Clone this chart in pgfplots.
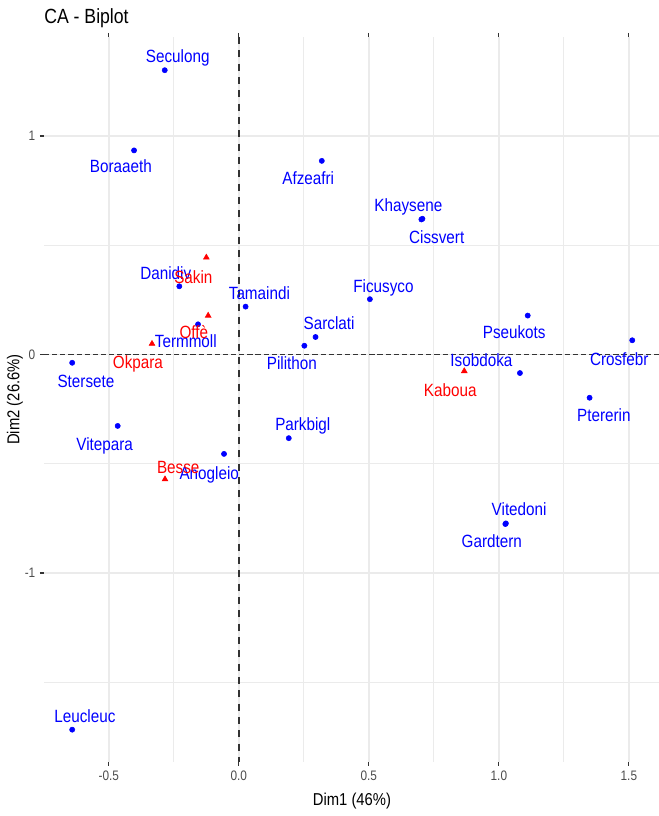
\documentclass[border=0pt]{standalone}
\usepackage{pgfplots}
\pgfplotsset{compat=1.18}
\usepackage{fontspec}
\setmainfont{Liberation Sans}[FakeStretch=0.86]
\definecolor{gridc}{HTML}{EBEBEB}
\definecolor{tickc}{HTML}{333333}
\definecolor{ticklab}{HTML}{4D4D4D}
\definecolor{rowblue}{HTML}{0000FF}
\definecolor{colred}{HTML}{FF0000}

\pgfplotstableread{
x y label
-0.285 1.301 Seculong
-0.403 0.934 Boraaeth
0.319 0.886 Afzeafri
0.706 0.621 Khaysene
0.702 0.618 Cissvert
-0.229 0.312 Danidiv
0.026 0.219 Tamaindi
-0.157 0.138 Termmoll
0.504 0.253 Ficusyco
0.295 0.080 Sarclati
0.252 0.040 Pilithon
1.111 0.178 Pseukots
1.513 0.065 Crosfebr
1.081 -0.085 Isobdoka
1.349 -0.198 Ptererin
-0.641 -0.038 Stersete
-0.466 -0.327 Vitepara
0.192 -0.383 Parkbigl
-0.057 -0.455 Anogleio
1.027 -0.773 Vitedoni
1.025 -0.776 Gardtern
-0.641 -1.717 Leucleuc
}\rowpts

\pgfplotstableread{
x y label
-0.235 1.366 Seculong
-0.454 0.864 Boraaeth
0.267 0.806 Afzeafri
0.652 0.684 Khaysene
0.761 0.539 Cissvert
-0.281 0.374 Danidiv
0.079 0.283 Tamaindi
-0.204 0.059 Termmoll
0.556 0.315 Ficusyco
0.347 0.143 Sarclati
0.204 -0.038 Pilithon
1.059 0.102 Pseukots
1.463 -0.021 Crosfebr
0.933 -0.028 Isobdoka
1.404 -0.278 Ptererin
-0.588 -0.121 Stersete
-0.516 -0.410 Vitepara
0.246 -0.318 Parkbigl
-0.114 -0.541 Anogleio
1.078 -0.708 Vitedoni
0.973 -0.855 Gardtern
-0.592 -1.653 Leucleuc
}\rowlabs

\pgfplotstableread{
x y label
-0.125 0.444 Sakin
-0.118 0.178 Offè
-0.334 0.049 Okpara
-0.284 -0.571 Besse
0.867 -0.076 Kaboua
}\colpts

\pgfplotstableread{
x y label
-0.175 0.356 Sakin
-0.173 0.104 Offè
-0.388 -0.036 Okpara
-0.233 -0.515 Besse
0.813 -0.162 Kaboua
}\collabs

\begin{document}
\begin{tikzpicture}
\path[use as bounding box] (-33pt,-40.5pt) rectangle (461.25pt,571.5pt);
\begin{axis}[
  at={(0,0)}, anchor=south west, scale only axis,
  width=462pt, height=543.75pt,
  xmin=-0.7494, xmax=1.6198, ymin=-1.865, ymax=1.453,
  axis line style={draw=none},
  xtick={-0.5,0,0.5,1,1.5}, xticklabels={-0.5,0.0,0.5,1.0,1.5},
  ytick={-1,0,1}, yticklabels={-1,0,1},
  minor xtick={-0.75,-0.25,0.25,0.75,1.25},
  minor ytick={-1.5,-0.5,0.5},
  grid=both,
  major grid style={color=gridc, line width=1.1pt},
  minor grid style={color=gridc, line width=0.55pt},
  tick align=outside, major tick length=3pt, minor tick length=0pt,
  major tick style={color=tickc, line width=0.9pt},
  ticklabel style={font=\fontsize{10.3}{12}\selectfont, text=ticklab},
  /pgf/number format/assume math mode=true,
  xlabel={Dim1 (46\%)}, ylabel={Dim2 (26.6\%)},
  label style={font=\fontsize{12.9}{15}\selectfont, text=black},
  xlabel style={at={(axis description cs:0.5,0)}, anchor=center, yshift=-29.25pt},
  ylabel style={at={(axis description cs:0,0.5)}, anchor=center, yshift=21.75pt},
  clip=true,
]
\addplot[color=tickc, line width=1.4pt, dash pattern=on 5.2pt off 4.8pt] coordinates {(0,1.453) (0,-2)};
\addplot[color=tickc, line width=1.3pt, dash pattern=on 3.9pt off 2.2pt] coordinates {(-0.7494,0) (2,0)};
\addplot[only marks, mark=*, mark size=1.95pt, color=rowblue] table[x=x,y=y] {\rowpts};
\addplot[only marks, mark=triangle*, mark size=2.5pt, color=colred] table[x=x,y=y] {\colpts};
\addplot[only marks, mark=*, mark size=0pt, mark options={draw=none,fill=none},
  nodes near coords, point meta=explicit symbolic,
  nodes near coords style={anchor=base, yshift=-4.8pt, inner sep=0pt, text=rowblue, font=\fontsize{13.3}{15}\selectfont}]
  table[x=x,y=y,meta=label] {\rowlabs};
\addplot[only marks, mark=*, mark size=0pt, mark options={draw=none,fill=none},
  nodes near coords, point meta=explicit symbolic,
  nodes near coords style={anchor=base, yshift=-4.8pt, inner sep=0pt, text=colred, font=\fontsize{13.3}{15}\selectfont}]
  table[x=x,y=y,meta=label] {\collabs};
\end{axis}
\node[anchor=base west, inner sep=0pt, font=\fontsize{15.4}{18}\selectfont] at (0pt,553.5pt) {CA - Biplot};
\end{tikzpicture}
\end{document}
